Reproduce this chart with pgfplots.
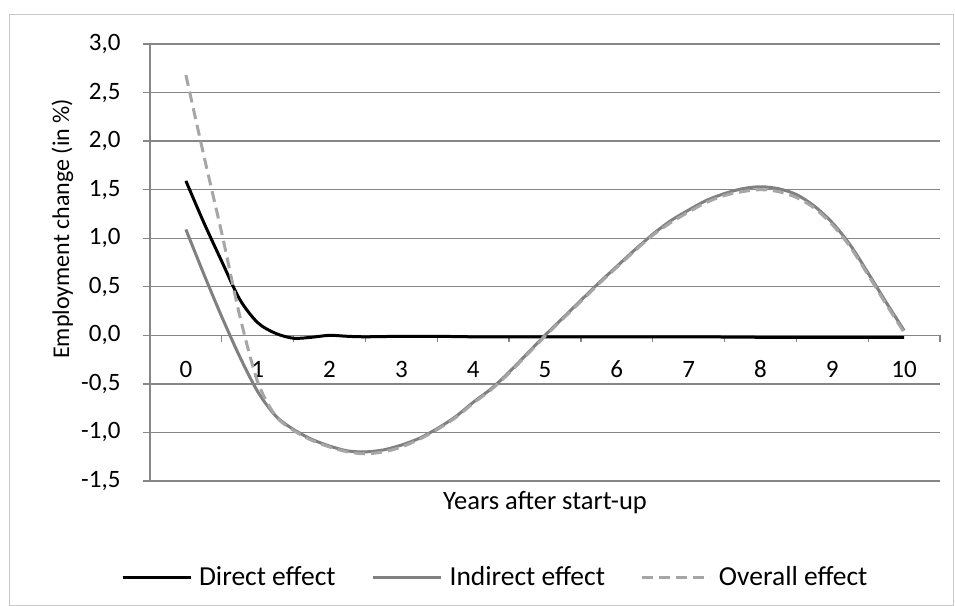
\documentclass[border=0pt]{standalone}
\usepackage{pgfplots}
\pgfplotsset{compat=1.18}
\usepackage{pgfplotstable}
\usepackage{fontspec}
\setmainfont{Carlito}
\definecolor{gridgray}{RGB}{134,134,134}
\definecolor{indgray}{RGB}{128,128,128}
\definecolor{ovgray}{RGB}{166,166,166}
\definecolor{framegray}{RGB}{200,200,200}
\newcommand\cf{\fontsize{25bp}{30bp}\selectfont}
\newcommand\lf{\fontsize{26.5bp}{32bp}\selectfont}
\newcommand\gf{\fontsize{27.5bp}{33bp}\selectfont}
\newcommand\yf{\fontsize{24bp}{29bp}\selectfont}

\pgfplotstableread{
x y
0 1.59
0.25 1.16
0.5 0.76
0.75 0.37
1 0.13
1.25 0.02
1.5 -0.03
1.75 -0.02
2 0.00
2.25 -0.01
2.5 -0.015
3 -0.01
3.5 -0.01
4 -0.015
5 -0.015
6 -0.015
7 -0.015
8 -0.02
9 -0.02
10 -0.02
}\direct

\pgfplotstableread{
x y
0 1.09
0.25 0.63
0.5 0.19
0.75 -0.22
1.0 -0.58
1.25 -0.83
1.5 -0.97
1.75 -1.07
2.0 -1.14
2.25 -1.19
2.5 -1.20
2.75 -1.18
3.0 -1.13
3.25 -1.06
3.5 -0.96
3.75 -0.84
4.0 -0.69
4.25 -0.55
4.5 -0.38
4.75 -0.19
5.0 0.0
5.25 0.18
5.5 0.36
5.75 0.54
6.0 0.71
6.25 0.88
6.5 1.04
6.75 1.18
7.0 1.29
7.25 1.39
7.5 1.46
7.75 1.51
8.0 1.53
8.25 1.51
8.5 1.45
8.75 1.33
9.0 1.16
9.25 0.93
9.5 0.64
9.75 0.34
10.0 0.05
}\indirect

\pgfplotstableread{
x y
0 2.68
0.25 1.85
0.5 1.05
0.75 0.20
1.0 -0.48
1.25 -0.83
1.5 -0.98
1.75 -1.08
2.0 -1.15
2.25 -1.20
2.5 -1.22
2.75 -1.20
3.0 -1.15
3.25 -1.07
3.5 -0.97
3.75 -0.85
4.0 -0.70
4.25 -0.56
4.5 -0.39
4.75 -0.20
5.0 -0.01
5.25 0.17
5.5 0.35
5.75 0.53
6.0 0.70
6.25 0.87
6.5 1.03
6.75 1.16
7.0 1.27
7.25 1.37
7.5 1.44
7.75 1.48
8.0 1.50
8.25 1.48
8.5 1.42
8.75 1.31
9.0 1.14
9.25 0.91
9.5 0.62
9.75 0.32
10.0 0.03
}\overall

\begin{document}
\begin{tikzpicture}
\useasboundingbox (0,0) rectangle (955bp,606bp);
\draw[framegray, line width=1bp] (9bp,1bp) rectangle (953bp,591bp);
\begin{axis}[
  at={(150bp,125bp)}, anchor=south west,
  scale only axis, width=790bp, height=437bp,
  xmin=-0.5, xmax=10.5, ymin=-1.5, ymax=3,
  axis x line=middle, axis y line=left,
  axis line style={gridgray, line width=1.3bp, -},
  xtick={0,...,10},
  minor xtick={0.5,1.5,...,10.5},
  ytick={-1.5,-1,...,3},
  ymajorgrids, grid style={gridgray, line width=1.3bp},
  major x tick style={draw=none},
  major tick length=7bp, minor tick length=7bp,
  tick align=outside,
  tick style={gridgray, line width=1.3bp},
  /pgf/number format/assume math mode=true,
  ticklabel style={font=\cf, text=black},
  yticklabel style={/pgf/number format/fixed, /pgf/number format/fixed zerofill, /pgf/number format/precision=1, /pgf/number format/use comma, anchor=east, xshift=-19bp},
  xticklabel style={anchor=center, yshift=-27bp},
  xlabel={Years after start-up},
  xlabel style={font=\lf, at={(axis description cs:0.5,-0.0503)}, anchor=center},
  ylabel={Employment change (in \%)},
  ylabel style={font=\yf, at={(axis description cs:-0.111,0.577)}, anchor=center, rotate=0},
  legend style={at={(axis description cs:0.437,-0.2197)}, anchor=center, draw=none, fill=none, font=\gf, legend columns=3,
    /tikz/every even column/.append style={column sep=34bp},
    /tikz/every odd column/.append style={column sep=5bp}},
  legend image code/.code={\draw[#1] (0bp,0bp) -- (68bp,0bp);},
  clip=false,
]
\addplot[black, line width=3bp, smooth] table {\direct};
\addlegendentry{Direct effect}
\addplot[indgray, line width=3bp, smooth] table {\indirect};
\addlegendentry{Indirect effect}
\addplot[ovgray, line width=3bp, smooth, dash pattern=on 11bp off 6bp] table {\overall};
\addlegendentry{Overall effect}
\end{axis}
\end{tikzpicture}
\end{document}
